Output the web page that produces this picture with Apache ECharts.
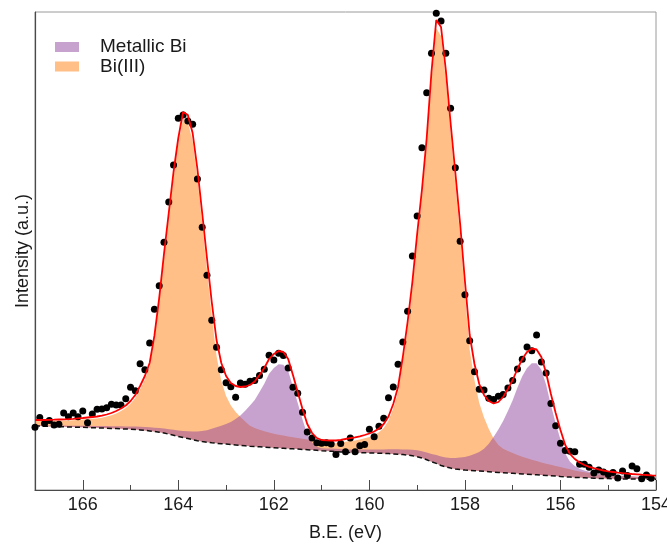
<!DOCTYPE html>
<html>
<head>
<meta charset="utf-8">
<title>Bi 4f</title>
<script src="https://cdn.jsdelivr.net/npm/echarts@6/dist/echarts.min.js"></script>
<style>
  html, body { margin: 0; padding: 0; background: #fff; }
  #chart { width: 667px; height: 544px; }
</style>
</head>
<body>
<div id="chart"></div>
<script>
// binding energy grid (eV), high -> low
const energy = [
  167.0, 166.9, 166.8, 166.7, 166.6, 166.5, 166.4, 166.3, 166.2, 166.1,
  166.0, 165.9, 165.8, 165.7, 165.6, 165.5, 165.4, 165.3, 165.2, 165.1,
  165.0, 164.9, 164.8, 164.7, 164.6, 164.5, 164.4, 164.3, 164.2, 164.1,
  164.0, 163.9, 163.8, 163.7, 163.6, 163.5, 163.4, 163.3, 163.2, 163.1,
  163.0, 162.9, 162.8, 162.7, 162.6, 162.5, 162.4, 162.3, 162.2, 162.1,
  162.0, 161.9, 161.8, 161.7, 161.6, 161.5, 161.4, 161.3, 161.2, 161.1,
  161.0, 160.9, 160.8, 160.7, 160.6, 160.5, 160.4, 160.3, 160.2, 160.1,
  160.0, 159.9, 159.8, 159.7, 159.6, 159.5, 159.4, 159.3, 159.2, 159.1,
  159.0, 158.9, 158.8, 158.7, 158.6, 158.5, 158.4, 158.3, 158.2, 158.1,
  158.0, 157.9, 157.8, 157.7, 157.6, 157.5, 157.4, 157.3, 157.2, 157.1,
  157.0, 156.9, 156.8, 156.7, 156.6, 156.5, 156.4, 156.3, 156.2, 156.1,
  156.0, 155.9, 155.8, 155.7, 155.6, 155.5, 155.4, 155.3, 155.2, 155.1,
  155.0, 154.9, 154.8, 154.7, 154.6, 154.5, 154.4, 154.3, 154.2, 154.1,
  154.0
];

// Shirley background (dashed line)
const background = [
  64, 63.9, 63.7, 63.6, 63.4, 63.3, 63.2, 63.0, 62.9, 62.8,
  62.7, 62.5, 62.3, 62.2, 62.0, 61.8, 61.6, 61.4, 61.2, 61.0,
  60.8, 60.5, 60.1, 59.6, 59.1, 58.5, 57.8, 56.9, 55.9, 54.8,
  53.6, 52.5, 51.4, 50.3, 49.3, 48.5, 47.8, 47.2, 46.7, 46.3,
  45.9, 45.5, 45.1, 44.6, 44.2, 43.8, 43.5, 43.2, 42.9, 42.6,
  42.3, 42.0, 41.7, 41.4, 41.2, 40.9, 40.6, 40.3, 40.0, 39.7,
  39.3, 39.0, 38.7, 38.4, 38.1, 37.8, 37.6, 37.4, 37.3, 37.2,
  37.1, 37.0, 36.8, 36.6, 36.4, 36.1, 35.8, 35.4, 34.9, 34.2,
  33.3, 32.0, 30.3, 28.3, 26.6, 24.5, 23.0, 21.9, 21.0, 20.4,
  19.9, 19.6, 19.3, 19.0, 18.7, 18.3, 17.9, 17.6, 17.3, 17.0,
  16.7, 16.4, 16.1, 15.8, 15.5, 15.2, 14.9, 14.5, 14.2, 13.9,
  13.5, 13.2, 12.9, 12.6, 12.4, 12.2, 12.0, 11.8, 11.6, 11.5,
  11.4, 11.3, 11.2, 11.1, 11.0, 11.0, 10.9, 10.9, 10.8, 10.8,
  10.7
];

// Bi(III) doublet, height above background
const bi3Comp = [
  5.2, 5.3, 5.4, 5.6, 5.9, 6.1, 6.3, 6.6, 6.9, 7.3,
  7.7, 8.3, 8.9, 9.4, 10.3, 11.6, 13.2, 15.2, 17.8, 20.9,
  25.4, 31.5, 40.7, 51, 64.3, 92, 130, 174.6, 216.2, 257.8,
  292.4, 318.9, 316.2, 298.4, 262.4, 218, 172.2, 126.8, 87.3, 62.7,
  48.1, 39, 32.9, 28.4, 24.3, 20.5, 18.5, 17, 15.8, 14.8,
  14, 13.3, 12.7, 12.1, 11.6, 11.1, 10.6, 10.2, 9.5, 8.8,
  8.3, 8.1, 8.1, 8.3, 9.3, 10.4, 11.3, 12.2, 13.2, 14.6,
  16, 17.9, 20.9, 25.4, 32.8, 45.3, 62.3, 92.4, 127.5, 167.8,
  216.3, 261.2, 314.4, 381.9, 435.1, 429.6, 387.5, 334.9, 285, 233.6,
  175.9, 120.7, 90.1, 68, 53.8, 42.7, 33.6, 27.4, 24, 22,
  20.2, 18.6, 17.2, 16, 14.8, 13.7, 12.7, 11.8, 11, 10.2,
  9.4, 8.6, 7.8, 7.0, 6.2, 5.5, 4.9, 4.4, 4.0, 3.6,
  3.3, 3.0, 2.8, 2.6, 2.4, 2.3, 2.2, 2.1, 2.0, 1.9,
  1.8
];

// metallic Bi doublet, height above background
const metalComp = [
  0.8, 0.8, 0.9, 1.0, 1.0, 1.1, 1.2, 1.3, 1.4, 1.5,
  1.6, 1.7, 1.8, 1.9, 2.0, 2.1, 2.2, 2.4, 2.5, 2.6,
  2.8, 3.0, 3.2, 3.4, 3.6, 3.8, 4.1, 4.5, 4.9, 5.4,
  6.0, 6.6, 7.4, 8.3, 9.3, 10.5, 12.0, 14.0, 16.0, 18.0,
  20, 22.5, 26, 30, 35, 40.7, 46.5, 54.8, 63.3, 73.6,
  79.7, 83.7, 83.6, 77.5, 62.2, 46, 29.8, 15.5, 7.5, 3.5,
  2.4, 2.6, 2.7, 2.8, 2.8, 2.8, 2.9, 3.0, 3.1, 3.2,
  3.4, 3.6, 3.8, 4.0, 4.3, 4.6, 4.9, 5.2, 5.6, 6.0,
  6.4, 6.8, 7.3, 7.8, 8.3, 8.9, 9.5, 10.2, 11.0, 12.0,
  13.2, 14.7, 16.6, 19.0, 22.5, 28, 35, 43, 51.7, 62,
  73.1, 86, 97.7, 106.2, 111.2, 111.6, 105.4, 90.7, 70.8, 52.9,
  37.1, 23.2, 15.3, 11.4, 8.9, 7.3, 6.3, 5.6, 5.0, 4.4,
  4.0, 3.7, 3.3, 3.1, 3.0, 2.7, 2.6, 2.3, 2.2, 1.9,
  1.8
];

// measured counts (one per energy, 167.0 ... 154.1)
const measured = [
  62.7, 72.5, 66.5, 69.6, 65, 65.8, 77, 73.3, 77, 73.3,
  79, 67.3, 76, 80.7, 81, 82.2, 85.8, 85, 85, 91.3,
  102.7, 99.3, 126.3, 120.3, 147, 180.7, 204.3, 247.7, 288, 325,
  371.7, 375, 369, 365.7, 311, 262.7, 214.8, 169.8, 142.7, 120.3,
  107.3, 103.3, 92.7, 107, 105.8, 108.8, 109.6, 114.6, 120.7, 134.7,
  130, 136.7, 134.5, 122, 102.7, 96.7, 77.8, 58, 52, 47.3,
  46.7, 47.3, 46, 35.5, 46.5, 38.3, 52, 38.3, 44.2, 45.5,
  60.7, 53.3, 63.8, 71.7, 92.3, 103, 125.7, 148, 178.7, 234,
  274, 342.3, 397.3, 436.7, 476.7, 469, 436.7, 381.7, 322.3, 248.7,
  195.2, 149.2, 118.3, 100.8, 100, 91.7, 90.5, 93.7, 95.5, 102,
  109.5, 121, 130.7, 143, 139.3, 155, 128, 117, 86.5, 64.2,
  46.7, 39.6, 38.8, 38.3, 25.8, 25.8, 22.7, 17, 20, 18,
  15.5, 17.5, 12, 19, 14.5, 24, 21.2, 11.3, 15, 11.7
];

const FONT = '"Liberation Sans", Arial, Helvetica, sans-serif';
const AXIS_DARK = '#4a4a4a';

// envelope = background + both components
const envelope = energy.map((e, i) => background[i] + bi3Comp[i] + metalComp[i]);
const pairs = arr => energy.map((e, i) => [e, arr[i]]);

// filled band between the background and background + component
function bandSeries(name, comp, fill) {
    return {
        name: name,
        type: 'custom',
        silent: true,
        z: 2,
        data: [[160, 0]],
        itemStyle: { color: fill },
        renderItem: function (params, api) {
            const top = energy.map((e, i) => api.coord([e, background[i] + comp[i]]));
            const bottom = energy.map((e, i) => api.coord([e, background[i]])).reverse();
            return {
                type: 'polygon',
                shape: { points: top.concat(bottom) },
                style: { fill: fill }
            };
        }
    };
}

const chart = echarts.init(document.getElementById('chart'), null, { renderer: 'canvas' });

const option = {
    animation: false,
    backgroundColor: '#fff',
    grid: {
        left: 35, right: 11, top: 12, bottom: 54,
        show: true, borderColor: '#9a9a9a', borderWidth: 1,
        containLabel: false,
        outerBoundsMode: 'none'
    },
    legend: {
        orient: 'vertical',
        left: 50,
        top: 27.5,
        itemWidth: 24,
        itemHeight: 10,
        itemGap: -9.5,
        selectedMode: false,
        textStyle: {
            fontFamily: FONT, fontSize: 19, color: '#1a1a1a',
            lineHeight: 19, padding: [0, 0, 10, 16]
        },
        data: [
            { name: 'Metallic Bi', icon: 'rect', itemStyle: { color: '#c8a2ce', borderWidth: 0 } },
            { name: 'Bi(III)', icon: 'rect', itemStyle: { color: '#ffbf86', borderWidth: 0 } }
        ]
    },
    xAxis: [
        {
            // minor ticks every 1 eV
            type: 'value', min: 154, max: 167, interval: 1, inverse: true,
            position: 'bottom',
            axisLine: { show: true, lineStyle: { color: AXIS_DARK, width: 1.2 } },
            axisTick: { show: true, inside: true, length: 5, lineStyle: { color: AXIS_DARK, width: 1 } },
            axisLabel: { show: false },
            splitLine: { show: false }
        },
        {
            // major ticks + labels every 2 eV
            type: 'value', min: 154, max: 167, interval: 2, inverse: true,
            position: 'bottom',
            axisLine: { show: false },
            axisTick: { show: true, inside: true, length: 10, lineStyle: { color: AXIS_DARK, width: 1 } },
            axisLabel: {
                margin: 6, fontFamily: FONT, fontSize: 18, color: '#1a1a1a',
                showMaxLabel: false,
                formatter: v => (v % 2 === 0 ? String(v) : '')
            },
            splitLine: { show: false },
            name: 'B.E. (eV)',
            nameLocation: 'middle',
            nameGap: 34,
            nameTextStyle: { fontFamily: FONT, fontSize: 18, color: '#1a1a1a' }
        }
    ],
    yAxis: {
        type: 'value', min: 0, max: 478,
        axisLine: { show: true, lineStyle: { color: AXIS_DARK, width: 1.2 } },
        axisTick: { show: false },
        axisLabel: { show: false },
        splitLine: { show: false },
        name: 'Intensity (a.u.)',
        nameLocation: 'middle',
        nameGap: 3,
        nameTextStyle: { fontFamily: FONT, fontSize: 18, color: '#1a1a1a' }
    },
    series: [
        bandSeries('Bi(III)', bi3Comp, 'rgba(255,127,14,0.5)'),
        bandSeries('Metallic Bi', metalComp, 'rgba(145,69,157,0.5)'),
        {
            name: 'background', type: 'line', symbol: 'none', silent: true,
            data: pairs(background),
            lineStyle: { color: '#111', width: 1.5, type: [5, 3] },
            z: 3
        },
        {
            name: 'data', type: 'scatter', silent: true,
            data: measured.map((v, i) => [energy[i], v]),
            symbolSize: 7,
            itemStyle: { color: '#000', opacity: 1 },
            z: 4
        },
        {
            name: 'fit', type: 'line', symbol: 'none', silent: true,
            data: pairs(envelope),
            lineStyle: { color: '#ff0000', width: 1.8 },
            z: 5
        }
    ]
};

chart.setOption(option);
</script>
</body>
</html>
